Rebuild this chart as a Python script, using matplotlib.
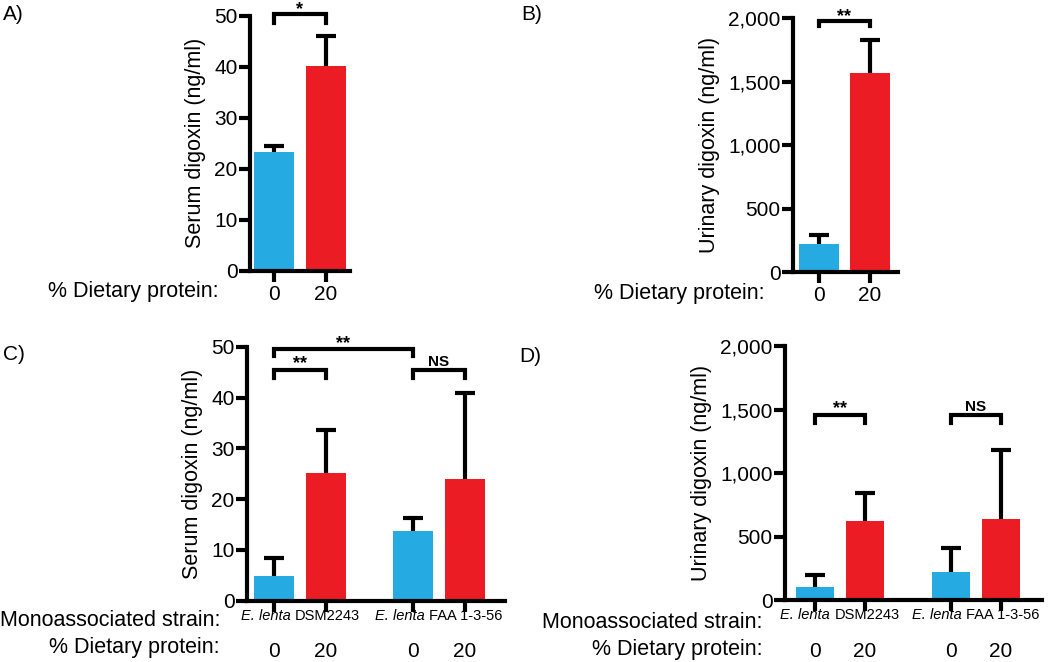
import matplotlib.pyplot as plt
from matplotlib.ticker import FuncFormatter
from matplotlib.transforms import offset_copy

plt.rcParams['font.family'] = ['Liberation Sans', 'DejaVu Sans']

blue = '#25aae1'
red = '#ec1c24'

# panel A / B: 0 vs 20 % protein
protein = ['0', '20']
serum_a = [23.2, 40.1]
serum_a_err = [1.2, 5.9]
urine_b = [220, 1570]
urine_b_err = [75, 260]

# panel C / D: monoassociated mice
species = 'E. lenta'
strains = ['DSM2243', 'FAA 1-3-56']
protein_cd = ['0', '20', '0', '20']
serum_c = [4.8, 25.1, 13.8, 23.9]
serum_c_err = [3.6, 8.6, 2.5, 17.1]
urine_d = [100, 620, 220, 640]
urine_d_err = [95, 220, 190, 545]

W, H = 1050, 662
fig = plt.figure(figsize=(W / 100, H / 100), dpi=100)


def px_ax(l, t, r, b):
    return fig.add_axes([l / W, 1 - b / H, (r - l) / W, (b - t) / H])


def panel(ax, x, vals, errs, ylim, yticks, ylabel, xlim, labels, comma=False, xpad=2):
    cols = [blue, red] * (len(vals) // 2)
    ax.bar(x, vals, width=0.77, color=cols, edgecolor='none', zorder=2)
    eb = ax.errorbar(x, vals, yerr=[[0] * len(errs), errs], fmt='none', ecolor='black',
                     elinewidth=3, capsize=7.5, capthick=3, zorder=3)
    # keep only the upper caps
    for cap in eb[1]:
        if list(cap.get_ydata()) == list(vals):
            cap.remove()
    ax.set_ylim(*ylim)
    ax.set_xlim(*xlim)
    ax.set_yticks(yticks)
    ax.set_xticks(x)
    ax.set_xticklabels(labels)
    if comma:
        ax.yaxis.set_major_formatter(FuncFormatter(lambda v, p: f'{int(v):,}'))
    ax.set_ylabel(ylabel, fontsize=15.5, labelpad=6)
    for s in ['top', 'right']:
        ax.spines[s].set_visible(False)
    for s in ['left', 'bottom']:
        ax.spines[s].set_linewidth(3)
    ax.tick_params(axis='both', direction='out', length=8, width=3, labelsize=15)
    ax.tick_params(axis='y', pad=1)
    ax.tick_params(axis='x', pad=xpad)


def bracket(ax, x1, x2, y, h, text, fs=13, dy=1):
    ax.plot([x1, x1, x2, x2], [y - h, y, y, y - h], color='black', lw=3,
            clip_on=False, solid_joinstyle='miter', zorder=4)
    ax.annotate(text, xy=((x1 + x2) / 2, y), xytext=(0, dy), textcoords='offset points',
                ha='center', va='baseline', fontsize=fs, fontweight='bold',
                annotation_clip=False)


# A
axa = px_ax(250, 15.7, 350, 270.7)
panel(axa, [0, 1], serum_a, serum_a_err, (0, 50), range(0, 51, 10),
      'Serum digoxin (ng/ml)', (-0.46, 1.46), protein)
bracket(axa, 0, 1, 50.4, 1.8, '*', dy=-0.5)

# B
axb = px_ax(793, 18, 898, 272)
panel(axb, [0, 1], urine_b, urine_b_err, (0, 2000), range(0, 2001, 500),
      'Urinary digoxin (ng/ml)', (-0.51, 1.55), protein, comma=True)
bracket(axb, 0, 1, 1980, 45, '**', dy=-0.5)

# C
xc = [0, 1, 2.67, 3.67]
axc = px_ax(247, 347, 505, 600.7)
panel(axc, xc, serum_c, serum_c_err, (0, 50), range(0, 51, 10),
      'Serum digoxin (ng/ml)', (-0.52, 4.44), protein_cd, xpad=22)
bracket(axc, 0, 1, 45.5, 1.6, '**')
bracket(axc, 0, 2.67, 49.7, 1.4, '**', dy=0)
bracket(axc, 2.67, 3.67, 45.5, 1.6, 'NS', fs=11, dy=3)

# D
xd = [0, 1, 2.72, 3.72]
axd = px_ax(785, 346, 1042, 600)
panel(axd, xd, urine_d, urine_d_err, (0, 2000), range(0, 2001, 500),
      'Urinary digoxin (ng/ml)', (-0.6, 4.54), protein_cd, comma=True, xpad=22)
bracket(axd, 0, 1, 1457, 64, '**')
bracket(axd, 2.72, 3.72, 1457, 64, 'NS', fs=11, dy=3)

# strain labels under C and D: italic species + plain strain, centred as one piece
renderer = fig.canvas.get_renderer()
for ax, xs in [(axc, xc), (axd, xd)]:
    for i, s in enumerate(strains):
        xm = (xs[2 * i] + xs[2 * i + 1]) / 2
        t1 = ax.text(xm, 0, species + ' ', style='italic', fontsize=10.5,
                     ha='left', va='center', clip_on=False)
        t2 = ax.text(xm, 0, s, fontsize=10.5, ha='left', va='center', clip_on=False)
        w1 = t1.get_window_extent(renderer).width * 72 / fig.dpi
        w2 = t2.get_window_extent(renderer).width * 72 / fig.dpi
        start = -(w1 + w2) / 2
        t1.set_transform(offset_copy(ax.transData, fig=fig, x=start, y=-11, units='points'))
        t2.set_transform(offset_copy(ax.transData, fig=fig, x=start + w1, y=-11, units='points'))


def ftext(px, py, s, **kw):
    fig.text(px / W, 1 - py / H, s, **kw)


ftext(219, 292, '% Dietary protein:', ha='right', va='center', fontsize=15.5)
ftext(765, 294, '% Dietary protein:', ha='right', va='center', fontsize=15.5)
ftext(220, 620, 'Monoassociated strain:', ha='right', va='center', fontsize=15.5)
ftext(220, 648, '% Dietary protein:', ha='right', va='center', fontsize=15.5)
ftext(763, 622, 'Monoassociated strain:', ha='right', va='center', fontsize=15.5)
ftext(763, 649, '% Dietary protein:', ha='right', va='center', fontsize=15.5)

ftext(3, 15, 'A)', ha='left', va='center', fontsize=15)
ftext(521, 15, 'B)', ha='left', va='center', fontsize=15)
ftext(3, 355, 'C)', ha='left', va='center', fontsize=15)
ftext(519, 357, 'D)', ha='left', va='center', fontsize=15)

fig.savefig('out.png', dpi=100)
